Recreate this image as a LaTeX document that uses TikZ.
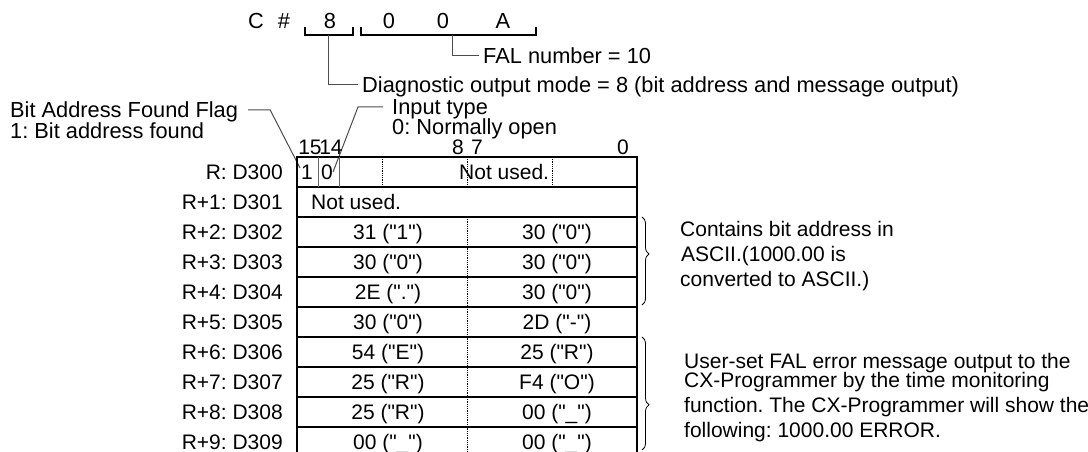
\documentclass[tikz,border=0pt]{standalone}
\usepackage{fontspec}
\setmainfont{Liberation Sans}[Ligatures=TeXOff]
\usetikzlibrary{decorations.pathreplacing}
\frenchspacing

\begin{document}
\begin{tikzpicture}[x=1pt,y=-1pt,
  txt/.style={inner sep=0pt,text height=15pt,text depth=0pt,font=\fontsize{21}{25}\selectfont},
  note/.style={inner sep=0pt,text height=15.6pt,text depth=0pt,font=\fontsize{21.8}{26}\selectfont},
  tick/.style={line width=1.2pt},
  leader/.style={line width=1pt,black!70},
  grid/.style={line width=1.6pt},
  sep/.style={line width=1pt,black!60},
  dots/.style={line width=0.8pt,densely dotted},
  curly/.style={line width=0.8pt,decorate,decoration={brace,amplitude=7pt}}]
\useasboundingbox (0,0) rectangle (1088,452);

% instruction word
\node[note] (wc) at (256,21) {C};
\node[note] (wh) at (284,21) {\#};
\node[note] (w8) at (330,21) {8};
\node[note] (w0a) at (389,21) {0};
\node[note] (w0b) at (443,21) {0};
\node[note] (wa) at (503,21) {A};
\draw[tick] (305,27) -- (305,35) -- (353,35) -- (353,27);
\draw[tick] (361,27) -- (361,35) -- (536,35) -- (536,27);
\coordinate (m8) at (328,35);
\coordinate (mfal) at (452,35);

\node[note,anchor=west] (fal) at (483,56) {FAL number = 10};
\node[note,anchor=west] (diag) at (362,85) {Diagnostic output mode = 8 (bit address and message output)};
\draw[leader] (mfal) |- ([xshift=-4pt]fal.west);
\draw[leader] (m8) |- ([xshift=-4pt]diag.west);

% flag and input type
\node[note,anchor=west] (flag) at (10,110) {Bit Address Found Flag};
\node[note,anchor=west] (found) at (10,131) {1: Bit address found};
\node[note,anchor=west] (intype) at (392,107) {Input type};
\node[note,anchor=west] (inno) at (392,127) {0: Normally open};
\coordinate (bit15) at (300,168);
\coordinate (bit14) at (333,172);
\draw[leader] ([xshift=10pt]flag.east) -- ++(22,0) -- (bit15);
\draw[leader] ([xshift=-9pt]intype.west) -- ++(-25,0) -- (bit14);

% bit numbers
\node[txt] (b15) at (310,147) {15};
\node[txt] (b14) at (331,147) {14};
\node[txt] (b8) at (458,147) {8};
\node[txt] (b7) at (477,147) {7};
\node[txt] (b0) at (623,147) {0};

% table
\draw[grid] (297,452) -- (297,157) -- (637,157) -- (637,452);
\foreach \y in {187,217,...,427}
  \draw[grid] (297,\y) -- (637,\y);
\draw[sep] (318.3,157) -- (318.3,187);
\draw[sep] (339.6,157) -- (339.6,187);
\foreach \x in {382,467,552}
  \draw[dots] (\x,157) -- (\x,187);
\draw[dots] (467,217) -- (467,452);

\foreach \i/\r in {0/R,1/R+1,2/R+2,3/R+3,4/R+4,5/R+5,6/R+6,7/R+7,8/R+8,9/R+9}
  \node[txt,anchor=east] (r\i) at (283,{172+30*\i}) {\r: D30\i};

\node[txt] (v15) at (307,172) {1};
\node[txt] (v14) at (327,172) {0};
\node[txt,anchor=west] (nu0) at (459,172) {Not used.};
\node[txt,anchor=west] (nu1) at (311,202) {Not used.};

\foreach \i/\hi/\lo in {2/31 ("1")/30 ("0"),3/30 ("0")/30 ("0"),4/2E (".")/30 ("0"),
    5/30 ("0")/2D ("-"),6/54 ("E")/25 ("R"),7/25 ("R")/F4 ("O"),
    8/25 ("R")/00 ("\_"),9/00 ("\_")/00 ("\_")}{
  \node[txt] (hi\i) at (388,{172+30*\i}) {\hi};
  \node[txt] (lo\i) at (557,{172+30*\i}) {\lo};
}

% notes
\coordinate (ba) at (642,217);
\coordinate (bb) at (642,305);
\coordinate (bc) at (642,337);
\coordinate (bd) at (642,450);
\draw[curly,decoration={aspect=0.42}] (ba) -- (bb);
\draw[curly,decoration={aspect=0.6}] (bc) -- (bd);

\node[txt,anchor=west] (asc1) at (680,229) {Contains bit address in};
\node[txt,anchor=west] (asc2) at (681,254) {ASCII.(1000.00 is};
\node[txt,anchor=west] (asc3) at (680,279) {converted to ASCII.)};
\node[txt,anchor=west] (msg1) at (684,361) {User-set FAL error message output to the};
\node[txt,anchor=west] (msg2) at (684,380) {CX-Programmer by the time monitoring};
\node[txt,anchor=west] (msg3) at (684,405) {function. The CX-Programmer will show the};
\node[txt,anchor=west] (msg4) at (684,430) {following: 1000.00 ERROR.};
\end{tikzpicture}
\end{document}
